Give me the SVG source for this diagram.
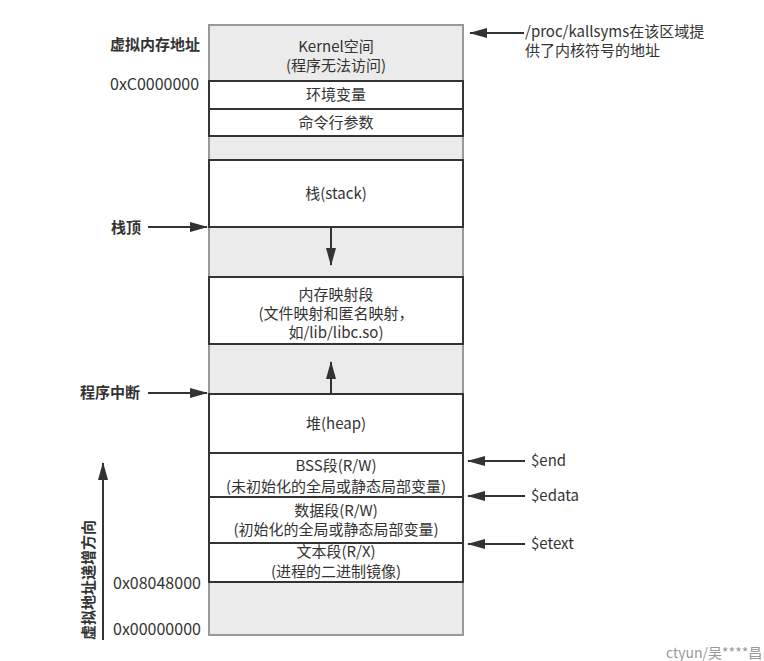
<svg xmlns="http://www.w3.org/2000/svg" width="764" height="661" viewBox="0 0 764 661">
<style>
text{font-family:"Noto Sans CJK SC","Noto Sans",sans-serif;fill:#333;font-size:15px}
.c{text-anchor:middle}
.b{font-weight:bold}
.h{font-size:16px}
.box{fill:#fff;stroke:#333;stroke-width:2}
.gray{fill:#ebebeb;stroke:#999;stroke-width:2}
.ln{stroke:#333;stroke-width:2;fill:none}
</style>
<defs>
<marker id="ah" viewBox="0 0 18 10" refX="17" refY="5" markerWidth="9" markerHeight="5" orient="auto" markerUnits="strokeWidth">
<path d="M0,0 L18,5 L0,10 z" fill="#333"/>
</marker>
</defs>
<rect width="764" height="661" fill="#fff"/>
<g id="column">
<rect class="gray" x="209" y="25" width="254" height="610"/>
</g>
<g id="kernel"><text class="c" x="336" y="52">Kernel空间</text><text class="c" x="336" y="71">(程序无法访问)</text></g>
<g id="env"><rect class="box" x="209" y="81" width="254" height="28"/><text class="c" x="336" y="100">环境变量</text></g>
<g id="args"><rect class="box" x="209" y="109" width="254" height="27"/><text class="c" x="336" y="128">命令行参数</text></g>
<g id="stack"><rect class="box" x="209" y="160" width="254" height="67"/><text class="c" x="336" y="199">栈(stack)</text></g>
<g id="mmap"><rect class="box" x="209" y="277" width="254" height="67"/><text class="c" x="336" y="300">内存映射段</text><text class="c" x="336" y="319">(文件映射和匿名映射，</text><text class="c" x="336" y="338">如/lib/libc.so)</text></g>
<g id="heap"><rect class="box" x="209" y="394" width="254" height="59"/><text class="c" x="336" y="429">堆(heap)</text></g>
<g id="bss"><rect class="box" x="209" y="453" width="254" height="44"/><text class="c" x="336" y="471">BSS段(R/W)</text><text class="c" x="336" y="492">(未初始化的全局或静态局部变量)</text></g>
<g id="data"><rect class="box" x="209" y="497" width="254" height="46"/><text class="c" x="336" y="516">数据段(R/W)</text><text class="c" x="336" y="535">(初始化的全局或静态局部变量)</text></g>
<g id="textseg"><rect class="box" x="209" y="543" width="254" height="39"/><text class="c" x="336" y="557">文本段(R/X)</text><text class="c" x="336" y="577">(进程的二进制镜像)</text></g>
<g id="labels">
<text class="b" x="110" y="50">虚拟内存地址</text>
<text class="h" x="110" y="90">0xC0000000</text>
<text class="b" x="111" y="233">栈顶</text>
<text class="b" x="80" y="398">程序中断</text>
<text class="h" x="113" y="589">0x08048000</text>
<text class="h" x="113" y="635">0x00000000</text>
<text class="b" transform="translate(94,640) rotate(-90)">虚拟地址递增方向</text>
<text x="525" y="37">/proc/kallsyms在该区域提</text>
<text x="525" y="56">供了内核符号的地址</text>
<text x="531" y="466">$end</text>
<text x="531" y="501">$edata</text>
<text x="531" y="549">$etext</text>
<text x="666" y="658" style="fill:#999;font-size:14px">ctyun/吴****昌</text>
</g>
<g id="connectors">
<line class="ln" x1="524" y1="33" x2="470" y2="33" marker-end="url(#ah)"/>
<line class="ln" x1="148" y1="227" x2="207" y2="227" marker-end="url(#ah)"/>
<line class="ln" x1="148" y1="393" x2="207" y2="393" marker-end="url(#ah)"/>
<line class="ln" x1="331" y1="227" x2="331" y2="265" marker-end="url(#ah)"/>
<line class="ln" x1="331" y1="393" x2="331" y2="362" marker-end="url(#ah)"/>
<line class="ln" x1="525" y1="461" x2="468" y2="461" marker-end="url(#ah)"/>
<line class="ln" x1="525" y1="496" x2="468" y2="496" marker-end="url(#ah)"/>
<line class="ln" x1="525" y1="544" x2="468" y2="544" marker-end="url(#ah)"/>
<line class="ln" x1="103" y1="640" x2="103" y2="463" marker-end="url(#ah)"/>
</g>
</svg>
